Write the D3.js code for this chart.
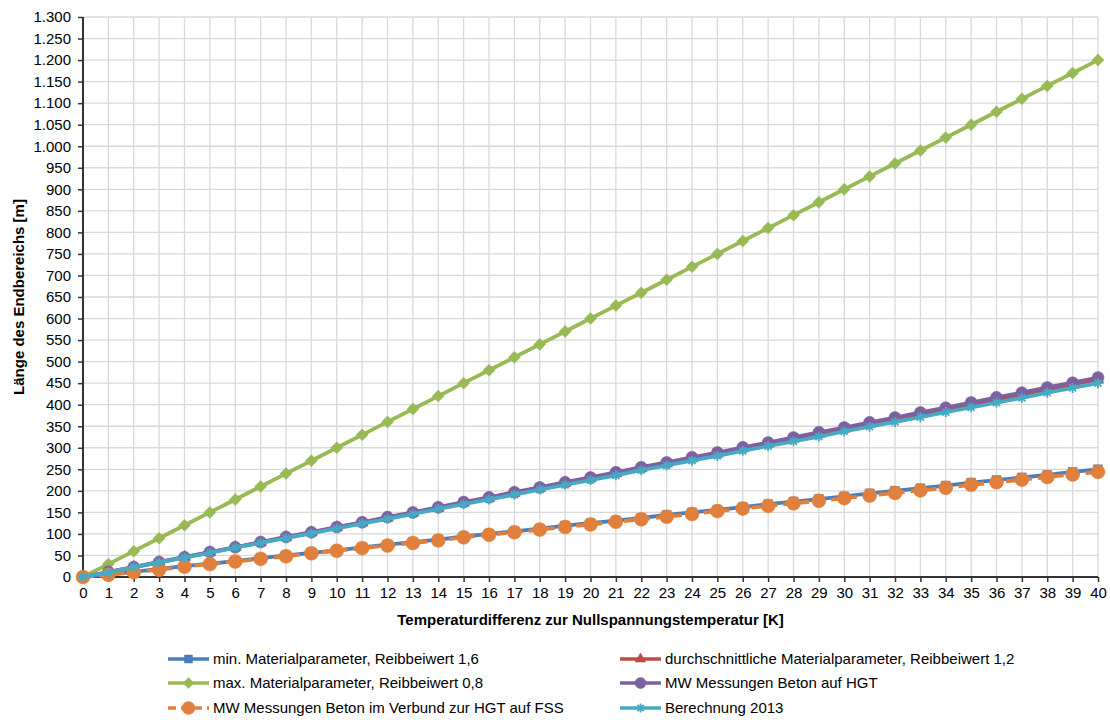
<!DOCTYPE html>
<html><head><meta charset="utf-8">
<script src="https://cdn.jsdelivr.net/npm/d3@7"></script>
<style>
body{margin:0;background:#fff;}
text{font-family:"Liberation Sans",Arial,sans-serif;fill:#000;}
</style></head>
<body><svg id="c" width="1110" height="720"></svg>
<script>
const xValues = d3.range(0, 41);
const yTicks = d3.range(0, 1301, 50);
const seriesNames = [
  "min. Materialparameter, Reibbeiwert 1,6",
  "durchschnittliche Materialparameter, Reibbeiwert 1,2",
  "max. Materialparameter, Reibbeiwert 0,8",
  "MW Messungen Beton auf HGT",
  "MW Messungen Beton im Verbund zur HGT auf FSS",
  "Berechnung 2013"
];
const minMat = [0,6,12,19,25,31,37,44,50,56,62,69,75,81,87,94,100,106,112,119,125,131,137,144,150,156,162,169,175,181,187,194,200,206,212,219,225,231,237,244,250];
const avgMat = [0,11,23,34,46,57,69,80,92,103,115,126,137,149,160,172,183,195,206,218,229,240,252,263,275,286,298,309,321,332,344,355,366,378,389,401,412,424,435,447,458];
const maxMat = [0,30,60,90,120,150,180,210,240,270,300,330,360,390,420,450,480,510,540,570,600,630,660,690,720,750,780,810,840,870,900,930,960,990,1020,1050,1080,1110,1140,1170,1200];
const mwHGT = [0,12,23,35,46,58,69,81,93,104,116,127,139,150,162,174,185,197,208,220,231,243,255,266,278,289,301,312,324,336,347,359,370,382,393,405,417,428,440,451,463];
const mwFSS = [0,5,11,17,24,30,36,42,48,55,61,67,73,79,85,92,98,104,110,116,122,128,134,140,146,153,159,165,171,177,183,189,195,201,207,214,220,226,232,238,244];
const calc2013 = [0,11,23,34,45,56,68,79,90,101,113,124,135,146,158,169,180,191,203,214,225,236,248,259,270,281,293,304,315,326,338,349,360,371,383,394,405,416,428,439,450];

const styles = [
  {color:"#4A7EBB", marker:"square", size:9, dash:null},
  {color:"#BE4B48", marker:"triangle", size:10, dash:null},
  {color:"#98B954", marker:"diamond", size:12, dash:null},
  {color:"#7D60A0", marker:"circle", size:12, dash:null},
  {color:"#E0803C", marker:"circle", size:14, dash:"10,6"},
  {color:"#46AAC5", marker:"star", size:10, dash:null}
];
const data = [minMat, avgMat, maxMat, mwHGT, mwFSS, calc2013];

const svg = d3.select("#c");
const L = 83, R = 1098, T = 17, B = 577;
const x = d3.scaleLinear().domain([0,40]).range([L,R]);
const y = d3.scaleLinear().domain([0,1300]).range([B,T]);
const de = d3.formatLocale({decimal:",", thousands:".", grouping:[3], currency:["","€"]});
const fmt = de.format(",d");
const FONT = "'Liberation Sans',Arial,sans-serif";

// grid
svg.append("g").selectAll("line").data(yTicks.slice(1)).join("line")
  .attr("x1",L).attr("x2",R).attr("y1",d=>y(d)).attr("y2",d=>y(d))
  .attr("stroke","#d9d9d9").attr("stroke-width",1.3);
svg.append("g").selectAll("line").data(xValues.slice(1)).join("line")
  .attr("x1",d=>x(d)).attr("x2",d=>x(d)).attr("y1",T).attr("y2",B)
  .attr("stroke","#d9d9d9").attr("stroke-width",1.3);

// axes
const yAxis = svg.append("g").attr("transform",`translate(${L},0)`)
  .call(d3.axisLeft(y).tickValues(yTicks).tickFormat(fmt).tickSize(5).tickPadding(7));
const xAxis = svg.append("g").attr("transform",`translate(0,${B})`)
  .call(d3.axisBottom(x).tickValues(xValues).tickFormat(d3.format("d")).tickSize(5).tickPadding(5));
[yAxis,xAxis].forEach(g=>{
  g.selectAll("path").attr("stroke","#333").attr("stroke-width",2);
  g.selectAll("line").attr("stroke","#333").attr("stroke-width",1.5);
  g.selectAll("text").style("font-family",FONT).style("font-size","15px").attr("fill","#000");
});
yAxis.select("path").attr("d",`M0,${B}V${T}`);
xAxis.select("path").attr("d",`M${L},0H${R}`);

// titles
svg.append("text").attr("transform",`translate(24,${(T+B)/2}) rotate(-90)`)
  .attr("text-anchor","middle").style("font-size","15px").style("font-weight","bold")
  .text("Länge des Endbereichs [m]");
svg.append("text").attr("x",(L+R)/2).attr("y",625)
  .attr("text-anchor","middle").style("font-size","15px").style("font-weight","bold")
  .text("Temperaturdifferenz zur Nullspannungstemperatur [K]");

function markerPath(type,s){
  if(type==="square") return d3.symbol(d3.symbolSquare, s*s)();
  if(type==="triangle") return d3.symbol(d3.symbolTriangle, s*s*0.6)();
  if(type==="diamond") { const h=s/2; return `M0,${-h}L${h},0L0,${h}L${-h},0Z`; }
  if(type==="circle") return d3.symbol(d3.symbolCircle, Math.PI*(s/2)*(s/2))();
  if(type==="star"){ const h=s/2; return `M${-h},0H${h}M0,${-h}V${h}M${-h*0.7},${-h*0.7}L${h*0.7},${h*0.7}M${-h*0.7},${h*0.7}L${h*0.7},${-h*0.7}`; }
}
function drawMarker(g,type,s,color,cx,cy){
  const p = g.append("path").attr("d",markerPath(type,s)).attr("transform",`translate(${cx},${cy})`);
  if(type==="star") p.attr("fill","none").attr("stroke",color).attr("stroke-width",1.8);
  else p.attr("fill",color).attr("stroke",color).attr("stroke-width",0.5);
}

const line = d3.line().x((d,i)=>x(xValues[i])).y(d=>y(d));
data.forEach((vals,k)=>{
  const st = styles[k];
  const g = svg.append("g");
  g.append("path").datum(vals).attr("d",line).attr("fill","none")
    .attr("stroke",st.color).attr("stroke-width",3.8)
    .attr("stroke-dasharray",st.dash);
  vals.forEach((v,i)=>drawMarker(g,st.marker,st.size,st.color,x(xValues[i]),y(v)));
});

// legend
const legPos = [[168,659],[620,659],[168,683],[620,683],[168,708],[620,708]];
seriesNames.forEach((name,k)=>{
  const st = styles[k];
  const [lx,ly] = legPos[k];
  const g = svg.append("g");
  g.append("line").attr("x1",lx).attr("x2",lx+41).attr("y1",ly).attr("y2",ly)
    .attr("stroke",st.color).attr("stroke-width",3.5).attr("stroke-dasharray",st.dash ? "8,5" : null);
  drawMarker(g,st.marker,st.size-1,st.color,lx+20.5,ly);
  g.append("text").attr("x",lx+45).attr("y",ly+5).style("font-size","15px").text(name);
});
</script></body></html>
